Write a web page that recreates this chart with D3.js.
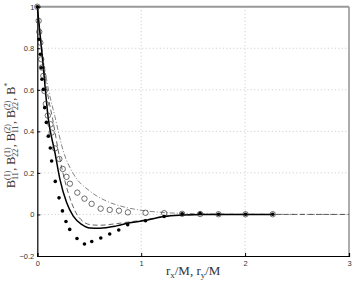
<!DOCTYPE html>
<html><head><meta charset="utf-8">
<script src="https://cdn.jsdelivr.net/npm/d3@7"></script>
<style>body{margin:0;background:#fff}svg{display:block}</style>
</head><body>
<svg id="c" width="354" height="283"></svg>
<script>
// ---- data ----
const xTicks = [0, 1, 2, 3];
const yTicks = [-0.2, 0, 0.2, 0.4, 0.6, 0.8, 1];
const yTickLabels = ["\u22120.2", "0", "0.2", "0.4", "0.6", "0.8", "1"];

const filledX = [0, 0.016, 0.029, 0.038, 0.045, 0.058, 0.071, 0.087, 0.106, 0.125, 0.138, 0.173, 0.209, 0.242, 0.276, 0.312, 0.382, 0.454, 0.524, 0.611, 0.697, 0.784, 0.870, 1.042, 1.221, 1.394, 1.567, 1.744, 2.004, 2.266];
const filledY = [1.0, 0.843, 0.771, 0.706, 0.651, 0.602, 0.514, 0.443, 0.377, 0.320, 0.257, 0.159, 0.080, 0.017, -0.034, -0.072, -0.116, -0.142, -0.130, -0.113, -0.094, -0.075, -0.049, -0.030, -0.010, 0.003, 0.006, 0.001, 0.001, 0.001];

const openX = [0, 0.013, 0.019, 0.029, 0.038, 0.045, 0.058, 0.069, 0.082, 0.101, 0.127, 0.138, 0.170, 0.212, 0.245, 0.281, 0.314, 0.385, 0.454, 0.523, 0.610, 0.697, 0.786, 0.872, 1.042, 1.221, 1.394, 1.567, 1.744, 2.004, 2.266];
const openY = [1.0, 0.932, 0.879, 0.827, 0.747, 0.707, 0.667, 0.594, 0.532, 0.476, 0.434, 0.394, 0.318, 0.267, 0.219, 0.181, 0.148, 0.105, 0.076, 0.051, 0.028, 0.022, 0.018, 0.010, 0.008, 0.006, 0.003, 0.002, 0.001, 0.001, 0.001];

const solidX = [0, 0.05, 0.106, 0.17, 0.218, 0.283, 0.346, 0.427, 0.507, 0.6, 0.763, 0.891, 1.05, 1.22, 1.4, 1.6, 2.27];
const solidY = [1, 0.75, 0.46, 0.297, 0.169, 0.056, -0.008, -0.048, -0.065, -0.066, -0.055, -0.040, -0.028, -0.010, -0.003, 0.0, 0.0];

const dashX = [0, 0.05, 0.1, 0.148, 0.218, 0.3, 0.36, 0.443, 0.52, 0.6, 0.75, 0.9, 1.05, 1.2, 1.4, 1.6, 3.0];
const dashY = [1, 0.76, 0.58, 0.458, 0.265, 0.10, 0.02, -0.035, -0.05, -0.052, -0.045, -0.035, -0.025, -0.01, -0.003, 0.0, 0.0];

const dashDotX = [0, 0.03, 0.06, 0.10, 0.17, 0.25, 0.346, 0.507, 0.667, 0.827, 0.988, 1.2, 1.5, 2.0, 3.0];
const dashDotY = [1, 0.86, 0.74, 0.62, 0.47, 0.305, 0.197, 0.112, 0.064, 0.037, 0.021, 0.010, 0.004, 0.001, 0.0];

// ---- chart ----
const svg = d3.select("#c");
const L = 37.3, R = 349, T = 6.7, B = 256;
const x = d3.scaleLinear().domain([0, 3]).range([L, R]);
const y = d3.scaleLinear().domain([-0.2, 1]).range([B, T]);

// grid
const grid = svg.append("g").attr("stroke", "#bbb").attr("stroke-width", 0.8).attr("stroke-dasharray", "1,2.5");
grid.selectAll("line.gx").data([1, 2]).join("line")
  .attr("x1", d => x(d)).attr("x2", d => x(d)).attr("y1", T).attr("y2", B);
grid.selectAll("line.gy").data([0, 0.2, 0.4, 0.6, 0.8]).join("line")
  .attr("x1", L).attr("x2", R).attr("y1", d => y(d)).attr("y2", d => y(d));

// frame: top/right gray, left/bottom black
svg.append("line").attr("x1", L).attr("x2", R).attr("y1", T).attr("y2", T).attr("stroke", "#999").attr("stroke-width", 2);
svg.append("line").attr("x1", R).attr("x2", R).attr("y1", T).attr("y2", B).attr("stroke", "#999").attr("stroke-width", 1.6);

// axes
const ax = d3.axisBottom(x).tickValues(xTicks).tickSize(-3).tickPadding(5).tickFormat(d3.format("d"));
const gx = svg.append("g").attr("transform", `translate(0,${B})`).call(ax);
gx.select(".domain").attr("stroke", "#000").attr("stroke-width", 1.2);
gx.selectAll(".tick line").attr("stroke", "#000");
gx.selectAll("text").attr("font-family", "Liberation Sans, Arial, sans-serif").attr("font-size", 7.5).attr("fill", "#333");

const ay = d3.axisLeft(y).tickValues(yTicks).tickSize(-3).tickPadding(3).tickFormat((d, i) => yTickLabels[i]);
const gy = svg.append("g").attr("transform", `translate(${L},0)`).call(ay);
gy.select(".domain").attr("stroke", "#000").attr("stroke-width", 1.2);
gy.selectAll(".tick line").attr("stroke", "#000");
gy.selectAll("text").attr("font-family", "Liberation Sans, Arial, sans-serif").attr("font-size", 7.5).attr("fill", "#333");

// lines
const mk = (xs, ys) => xs.map((v, i) => [v, ys[i]]);
const line = d3.line().x(d => x(d[0])).y(d => y(d[1])).curve(d3.curveMonotoneX);
svg.append("path").datum(mk(dashDotX, dashDotY)).attr("d", line)
  .attr("fill", "none").attr("stroke", "#666").attr("stroke-width", 0.8).attr("stroke-dasharray", "5,2,1,2");
svg.append("path").datum(mk(dashX, dashY)).attr("d", line)
  .attr("fill", "none").attr("stroke", "#555").attr("stroke-width", 0.9).attr("stroke-dasharray", "5,3");
svg.append("path").datum(mk(solidX, solidY)).attr("d", line)
  .attr("fill", "none").attr("stroke", "#000").attr("stroke-width", 1.5);

// markers
svg.append("g").selectAll("circle").data(mk(openX, openY)).join("circle")
  .attr("cx", d => x(d[0])).attr("cy", d => y(d[1])).attr("r", 2.7)
  .attr("fill", "none").attr("stroke", "#333").attr("stroke-width", 0.7);
svg.append("g").selectAll("circle").data(mk(filledX, filledY)).join("circle")
  .attr("cx", d => x(d[0])).attr("cy", d => y(d[1])).attr("r", 1.8)
  .attr("fill", "#000");

// y label with stacked sub/superscripts
const serif = "Liberation Serif, DejaVu Serif, serif";
const yl = svg.append("text").attr("transform", `translate(15,${(T + B) / 2 + 4}) rotate(-90)`)
  .attr("text-anchor", "middle").attr("font-family", serif).attr("font-size", 12).attr("fill", "#333");
const terms = [["11", "(1)"], ["22", "(1)"], ["11", "(2)"], ["22", "(2)"]];
terms.forEach((t, i) => {
  yl.append("tspan").text("B");
  const sb = yl.append("tspan").attr("font-size", 8).attr("dy", 3).text(t[0]);
  const w = sb.node().getComputedTextLength();
  const sp = yl.append("tspan").attr("font-size", 8).attr("dx", -w).attr("dy", -8.5).text(t[1]);
  const w2 = sp.node().getComputedTextLength();
  yl.append("tspan").attr("dy", 5.5).attr("dx", Math.max(0, w - w2)).text(", ");
});
yl.append("tspan").text("B");
yl.append("tspan").attr("font-size", 8).attr("dy", -5).text("*");

// x label
const xl = svg.append("text").attr("x", (L + R) / 2).attr("y", 275).attr("text-anchor", "middle")
  .attr("font-family", serif).attr("font-size", 13).attr("fill", "#333");
xl.append("tspan").text("r");
xl.append("tspan").attr("font-size", 9).attr("dy", 2.5).text("x");
xl.append("tspan").attr("dy", -2.5).text("/M, r");
xl.append("tspan").attr("font-size", 9).attr("dy", 2.5).text("y");
xl.append("tspan").attr("dy", -2.5).text("/M");
</script>
</body></html>
